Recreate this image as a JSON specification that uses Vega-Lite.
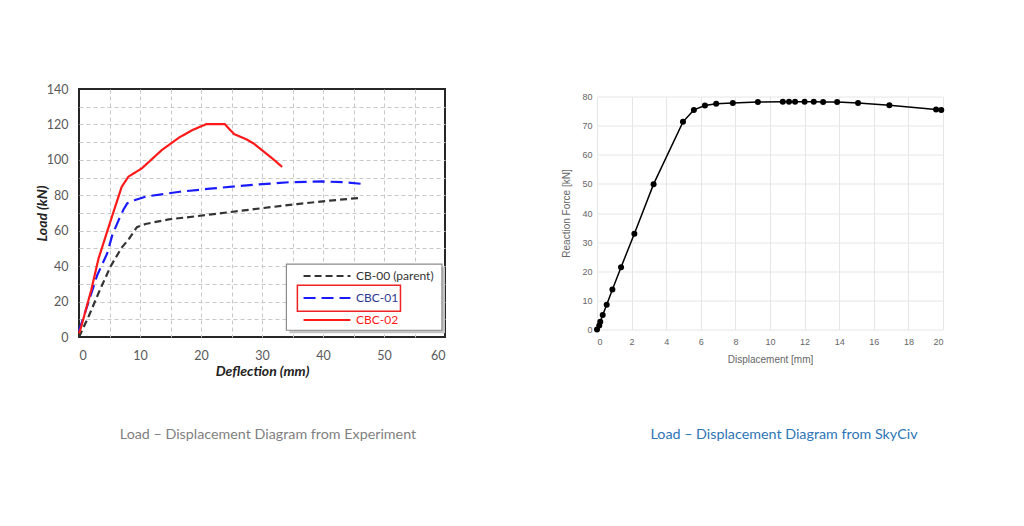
{
  "$schema": "https://vega.github.io/schema/vega-lite/v6.json",
  "background": "white",
  "padding": {"left": 34, "top": 82, "right": 5, "bottom": 5},
  "bounds": "flush",
  "center": true,
  "spacing": 152,
  "datasets": {
    "exp": [
      {"series": "CB-00 (parent)", "d": 0, "load": 0},
      {"series": "CB-00 (parent)", "d": 1.5, "load": 11},
      {"series": "CB-00 (parent)", "d": 3.4, "load": 26.4},
      {"series": "CB-00 (parent)", "d": 5.2, "load": 40},
      {"series": "CB-00 (parent)", "d": 7, "load": 50.5},
      {"series": "CB-00 (parent)", "d": 8.1, "load": 55},
      {"series": "CB-00 (parent)", "d": 9.5, "load": 62},
      {"series": "CB-00 (parent)", "d": 10.9, "load": 63.8},
      {"series": "CB-00 (parent)", "d": 14.7, "load": 66.4},
      {"series": "CB-00 (parent)", "d": 19.3, "load": 68.2},
      {"series": "CB-00 (parent)", "d": 24.7, "load": 70.5},
      {"series": "CB-00 (parent)", "d": 30.2, "load": 72.8},
      {"series": "CB-00 (parent)", "d": 35.7, "load": 75},
      {"series": "CB-00 (parent)", "d": 41.1, "load": 77},
      {"series": "CB-00 (parent)", "d": 46.3, "load": 78.6},
      {"series": "CBC-01", "d": 0, "load": 3.5},
      {"series": "CBC-01", "d": 1.3, "load": 17},
      {"series": "CBC-01", "d": 3, "load": 35},
      {"series": "CBC-01", "d": 4.6, "load": 47},
      {"series": "CBC-01", "d": 5.5, "load": 58},
      {"series": "CBC-01", "d": 6.5, "load": 66},
      {"series": "CBC-01", "d": 7.3, "load": 72},
      {"series": "CBC-01", "d": 7.9, "load": 75.4},
      {"series": "CBC-01", "d": 9.2, "load": 77.3},
      {"series": "CBC-01", "d": 11, "load": 79.3},
      {"series": "CBC-01", "d": 14.7, "load": 81.1},
      {"series": "CBC-01", "d": 16.5, "load": 82},
      {"series": "CBC-01", "d": 22, "load": 83.9},
      {"series": "CBC-01", "d": 27.5, "load": 85.6},
      {"series": "CBC-01", "d": 34.5, "load": 87.4},
      {"series": "CBC-01", "d": 40, "load": 87.8},
      {"series": "CBC-01", "d": 43.3, "load": 87.4},
      {"series": "CBC-01", "d": 46.5, "load": 86.4},
      {"series": "CBC-02", "d": 0, "load": 2},
      {"series": "CBC-02", "d": 0.3, "load": 5},
      {"series": "CBC-02", "d": 2, "load": 26.4},
      {"series": "CBC-02", "d": 3.2, "load": 44.3},
      {"series": "CBC-02", "d": 5.4, "load": 67.9},
      {"series": "CBC-02", "d": 7, "load": 84.8},
      {"series": "CBC-02", "d": 8.1, "load": 90.5},
      {"series": "CBC-02", "d": 10.3, "load": 95.2},
      {"series": "CBC-02", "d": 13.6, "load": 105.6},
      {"series": "CBC-02", "d": 16.5, "load": 112.8},
      {"series": "CBC-02", "d": 18.7, "load": 117},
      {"series": "CBC-02", "d": 20.9, "load": 120.2},
      {"series": "CBC-02", "d": 23.9, "load": 120.2},
      {"series": "CBC-02", "d": 25.4, "load": 114.6},
      {"series": "CBC-02", "d": 27.5, "load": 111.5},
      {"series": "CBC-02", "d": 28.6, "load": 109.3},
      {"series": "CBC-02", "d": 29.8, "load": 106},
      {"series": "CBC-02", "d": 31.8, "load": 100.5},
      {"series": "CBC-02", "d": 33.3, "load": 96}
    ],
    "skyciv": [
      {"disp": 0, "force": 0},
      {"disp": 0.13, "force": 1.4},
      {"disp": 0.19, "force": 2.7},
      {"disp": 0.33, "force": 5.0},
      {"disp": 0.56, "force": 8.5},
      {"disp": 0.89, "force": 13.7},
      {"disp": 1.39, "force": 21.4},
      {"disp": 2.16, "force": 32.9},
      {"disp": 3.27, "force": 49.9},
      {"disp": 4.97, "force": 71.3},
      {"disp": 5.6, "force": 75.4},
      {"disp": 6.24, "force": 76.9},
      {"disp": 6.89, "force": 77.5},
      {"disp": 7.85, "force": 77.8},
      {"disp": 9.3, "force": 78.1},
      {"disp": 10.74, "force": 78.2},
      {"disp": 11.1, "force": 78.2},
      {"disp": 11.45, "force": 78.2},
      {"disp": 12.0, "force": 78.2},
      {"disp": 12.53, "force": 78.2},
      {"disp": 13.07, "force": 78.1},
      {"disp": 13.88, "force": 78.1},
      {"disp": 15.09, "force": 77.8},
      {"disp": 16.9, "force": 77.0},
      {"disp": 19.6, "force": 75.5},
      {"disp": 19.9, "force": 75.4}
    ]
  },
  "hconcat": [
    {
      "width": 366,
      "height": 248,
      "view": {"stroke": "#262626", "strokeWidth": 2},
      "title": {
        "text": "Load – Displacement Diagram from Experiment",
        "orient": "bottom",
        "offset": 49,
        "frame": "group",
        "dx": 6,
        "font": "Lato",
        "fontSize": 14.3,
        "fontWeight": "normal",
        "color": "#7f7f7f"
      },
      "layer": [
        {
          "data": {"name": "exp"},
          "mark": {"type": "line", "strokeWidth": 2.2},
          "encoding": {
            "x": {
              "field": "d",
              "type": "quantitative",
              "scale": {"domain": [0, 60], "nice": false},
              "axis": {
                "title": "Deflection  (mm)",
                "values": [0, 5, 10, 15, 20, 25, 30, 35, 40, 45, 50, 55, 60],
                "labelExpr": "datum.value % 10 == 0 ? datum.label : ''",
                "domain": false,
                "ticks": false,
                "labelPadding": 12,
                "labelFont": "Lato",
                "labelFontSize": 12.5,
                "labelColor": "#595959",
                "titleFont": "Lato",
                "titleFontSize": 14,
                "titleFontStyle": "italic",
                "titleFontWeight": "bold",
                "titleColor": "#222222",
                "titlePadding": 3,
                "gridColor": "#c8c8c8",
                "gridDash": [4, 3],
                "gridOpacity": {"condition": {"test": "datum.value == 0 || datum.value == 60", "value": 0}, "value": 1}
              }
            },
            "y": {
              "field": "load",
              "type": "quantitative",
              "scale": {"domain": [0, 140], "nice": false},
              "axis": {
                "title": "Load (kN)",
                "values": [0, 10, 20, 30, 40, 50, 60, 70, 80, 90, 100, 110, 120, 130, 140],
                "labelExpr": "datum.value % 20 == 0 ? datum.label : ''",
                "domain": false,
                "ticks": false,
                "labelPadding": 11,
                "labelFont": "Lato",
                "labelFontSize": 12.5,
                "labelColor": "#595959",
                "titleFont": "Lato",
                "titleFontSize": 14,
                "titleFontStyle": "italic",
                "titleFontWeight": "bold",
                "titleColor": "#222222",
                "titlePadding": -3,
                "gridColor": "#c8c8c8",
                "gridDash": [4, 3],
                "gridOpacity": {"condition": {"test": "datum.value == 0 || datum.value == 140", "value": 0}, "value": 1}
              }
            },
            "color": {
              "field": "series",
              "type": "nominal",
              "scale": {
                "domain": ["CB-00 (parent)", "CBC-01", "CBC-02"],
                "range": ["#333333", "#1a1aff", "#ff1a1a"]
              },
              "legend": {
                "orient": "none",
                "legendX": 208,
                "legendY": 175,
                "title": null,
                "symbolType": "stroke",
                "symbolSize": 2200,
                "symbolStrokeWidth": 2.2,
                "symbolOffset": 14,
                "padding": 1,
                "clipHeight": 22,
                "rowPadding": 0,
                "labelOffset": 4,
                "labelFont": "Lato",
                "labelFontSize": 12,
                "encode": {
                  "labels": {
                    "update": {
                      "fill": {"signal": "datum.label === 'CBC-02' ? '#ff1a1a' : datum.label === 'CBC-01' ? '#2b3a8f' : '#333333'"}
                    }
                  }
                }
              }
            },
            "strokeDash": {
              "field": "series",
              "type": "nominal",
              "scale": {
                "domain": ["CB-00 (parent)", "CBC-01", "CBC-02"],
                "range": [[7, 4], [12, 6], [1, 0]]
              }
            }
          }
        },
        {
          "data": {"values": [{}]},
          "mark": {"type": "rect", "fill": "#c4c4c4"},
          "encoding": {
            "x": {
              "datum": 34.5,
              "type": "quantitative",
              "axis": {
                "title": "Deflection  (mm)",
                "values": [0, 5, 10, 15, 20, 25, 30, 35, 40, 45, 50, 55, 60],
                "labelExpr": "datum.value % 10 == 0 ? datum.label : ''",
                "domain": false,
                "ticks": false,
                "labelPadding": 12,
                "labelFont": "Lato",
                "labelFontSize": 12.5,
                "labelColor": "#595959",
                "titleFont": "Lato",
                "titleFontSize": 14,
                "titleFontStyle": "italic",
                "titleFontWeight": "bold",
                "titleColor": "#222222",
                "titlePadding": 3,
                "gridColor": "#c8c8c8",
                "gridDash": [4, 3],
                "gridOpacity": {"condition": {"test": "datum.value == 0 || datum.value == 60", "value": 0}, "value": 1}
              }
            },
            "x2": {"datum": 60},
            "y": {
              "datum": 39.4,
              "type": "quantitative",
              "axis": {
                "title": "Load (kN)",
                "values": [0, 10, 20, 30, 40, 50, 60, 70, 80, 90, 100, 110, 120, 130, 140],
                "labelExpr": "datum.value % 20 == 0 ? datum.label : ''",
                "domain": false,
                "ticks": false,
                "labelPadding": 11,
                "labelFont": "Lato",
                "labelFontSize": 12.5,
                "labelColor": "#595959",
                "titleFont": "Lato",
                "titleFontSize": 14,
                "titleFontStyle": "italic",
                "titleFontWeight": "bold",
                "titleColor": "#222222",
                "titlePadding": -3,
                "gridColor": "#c8c8c8",
                "gridDash": [4, 3],
                "gridOpacity": {"condition": {"test": "datum.value == 0 || datum.value == 140", "value": 0}, "value": 1}
              }
            },
            "y2": {"datum": 2.1}
          }
        },
        {
          "data": {"values": [{}]},
          "mark": {"type": "rect", "fill": "white", "stroke": "#8c8c8c", "strokeWidth": 1.2},
          "encoding": {
            "x": {
              "datum": 34.0,
              "type": "quantitative",
              "axis": {
                "title": "Deflection  (mm)",
                "values": [0, 5, 10, 15, 20, 25, 30, 35, 40, 45, 50, 55, 60],
                "labelExpr": "datum.value % 10 == 0 ? datum.label : ''",
                "domain": false,
                "ticks": false,
                "labelPadding": 12,
                "labelFont": "Lato",
                "labelFontSize": 12.5,
                "labelColor": "#595959",
                "titleFont": "Lato",
                "titleFontSize": 14,
                "titleFontStyle": "italic",
                "titleFontWeight": "bold",
                "titleColor": "#222222",
                "titlePadding": 3,
                "gridColor": "#c8c8c8",
                "gridDash": [4, 3],
                "gridOpacity": {"condition": {"test": "datum.value == 0 || datum.value == 60", "value": 0}, "value": 1}
              }
            },
            "x2": {"datum": 59.5},
            "y": {
              "datum": 41.1,
              "type": "quantitative",
              "axis": {
                "title": "Load (kN)",
                "values": [0, 10, 20, 30, 40, 50, 60, 70, 80, 90, 100, 110, 120, 130, 140],
                "labelExpr": "datum.value % 20 == 0 ? datum.label : ''",
                "domain": false,
                "ticks": false,
                "labelPadding": 11,
                "labelFont": "Lato",
                "labelFontSize": 12.5,
                "labelColor": "#595959",
                "titleFont": "Lato",
                "titleFontSize": 14,
                "titleFontStyle": "italic",
                "titleFontWeight": "bold",
                "titleColor": "#222222",
                "titlePadding": -3,
                "gridColor": "#c8c8c8",
                "gridDash": [4, 3],
                "gridOpacity": {"condition": {"test": "datum.value == 0 || datum.value == 140", "value": 0}, "value": 1}
              }
            },
            "y2": {"datum": 3.8}
          }
        },
        {
          "data": {"values": [{}]},
          "mark": {"type": "rect", "filled": false, "stroke": "#ee2222", "strokeWidth": 1.5},
          "encoding": {
            "x": {
              "datum": 35.8,
              "type": "quantitative",
              "axis": {
                "title": "Deflection  (mm)",
                "values": [0, 5, 10, 15, 20, 25, 30, 35, 40, 45, 50, 55, 60],
                "labelExpr": "datum.value % 10 == 0 ? datum.label : ''",
                "domain": false,
                "ticks": false,
                "labelPadding": 12,
                "labelFont": "Lato",
                "labelFontSize": 12.5,
                "labelColor": "#595959",
                "titleFont": "Lato",
                "titleFontSize": 14,
                "titleFontStyle": "italic",
                "titleFontWeight": "bold",
                "titleColor": "#222222",
                "titlePadding": 3,
                "gridColor": "#c8c8c8",
                "gridDash": [4, 3],
                "gridOpacity": {"condition": {"test": "datum.value == 0 || datum.value == 60", "value": 0}, "value": 1}
              }
            },
            "x2": {"datum": 52.7},
            "y": {
              "datum": 29.2,
              "type": "quantitative",
              "axis": {
                "title": "Load (kN)",
                "values": [0, 10, 20, 30, 40, 50, 60, 70, 80, 90, 100, 110, 120, 130, 140],
                "labelExpr": "datum.value % 20 == 0 ? datum.label : ''",
                "domain": false,
                "ticks": false,
                "labelPadding": 11,
                "labelFont": "Lato",
                "labelFontSize": 12.5,
                "labelColor": "#595959",
                "titleFont": "Lato",
                "titleFontSize": 14,
                "titleFontStyle": "italic",
                "titleFontWeight": "bold",
                "titleColor": "#222222",
                "titlePadding": -3,
                "gridColor": "#c8c8c8",
                "gridDash": [4, 3],
                "gridOpacity": {"condition": {"test": "datum.value == 0 || datum.value == 140", "value": 0}, "value": 1}
              }
            },
            "y2": {"datum": 14.5}
          }
        }
      ]
    },
    {
      "width": 346,
      "height": 233,
      "view": {"stroke": null},
      "title": {
        "text": "Load – Displacement Diagram from SkyCiv",
        "orient": "bottom",
        "offset": 63,
        "frame": "group",
        "dx": 14,
        "font": "Lato",
        "fontSize": 14.3,
        "fontWeight": "normal",
        "color": "#2e75b6"
      },
      "data": {"name": "skyciv"},
      "mark": {
        "type": "line",
        "color": "black",
        "strokeWidth": 1.5,
        "point": {"filled": true, "size": 36, "color": "black", "opacity": 1}
      },
      "encoding": {
        "x": {
          "field": "disp",
          "type": "quantitative",
          "scale": {"domain": [0, 20], "nice": false},
          "axis": {
            "title": "Displacement [mm]",
            "values": [0, 2, 4, 6, 8, 10, 12, 14, 16, 18, 20],
            "domain": false,
            "ticks": false,
            "labelPadding": 8,
            "labelFont": "Liberation Sans",
            "labelFontSize": 9,
            "labelColor": "#666666",
            "titleFont": "Liberation Sans",
            "titleFontSize": 10,
            "titleFontWeight": "normal",
            "titleColor": "#666666",
            "titlePadding": 8,
            "gridColor": "#e6e6e6"
          }
        },
        "y": {
          "field": "force",
          "type": "quantitative",
          "scale": {"domain": [0, 80], "nice": false},
          "axis": {
            "title": "Reaction Force [kN]",
            "values": [0, 10, 20, 30, 40, 50, 60, 70, 80],
            "domain": false,
            "ticks": false,
            "labelPadding": 5,
            "labelFont": "Liberation Sans",
            "labelFontSize": 9,
            "labelColor": "#666666",
            "titleFont": "Liberation Sans",
            "titleFontSize": 10,
            "titleFontWeight": "normal",
            "titleColor": "#666666",
            "titlePadding": 10,
            "gridColor": "#e6e6e6"
          }
        }
      }
    }
  ]
}
